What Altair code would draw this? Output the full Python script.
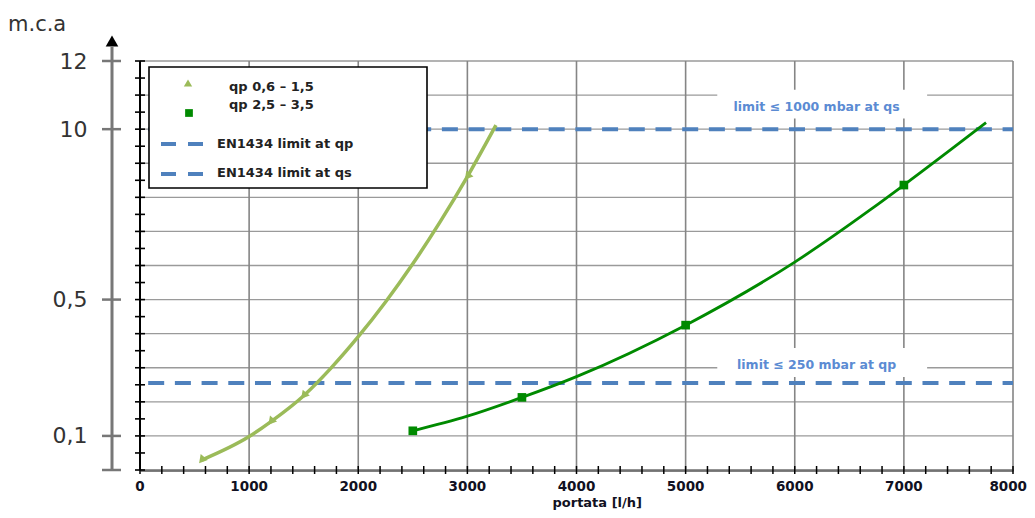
import altair as alt
import pandas as pd

# ---- data (x in l/h, y in axis grid units: 0..12) ----
lg_x = [565, 1000, 1200, 1500, 1750, 2000, 2250, 2500, 2750, 3000, 3262]
lg_y = [0.29, 0.98, 1.42, 2.18, 2.99, 3.91, 4.93, 6.05, 7.28, 8.61, 10.12]
lg_mark_x = [565, 1200, 1500, 3000]
lg_mark_y = [0.29, 1.42, 2.18, 8.61]

dg_x = [2500, 3000, 3500, 4000, 5000, 6000, 6690, 7000, 7753]
dg_y = [1.15, 1.58, 2.13, 2.74, 4.25, 6.10, 7.63, 8.36, 10.19]
dg_mark_x = [2500, 3500, 5000, 7000]
dg_mark_y = [1.15, 2.13, 4.25, 8.36]

limit_names = ["EN1434 limit at qp", "EN1434 limit at qs"]
limit_y = [2.55, 10.0]
limit_text = ["limit ≤ 250 mbar at qp", "limit ≤ 1000 mbar at qs"]
limit_text_y = [3.08, 10.66]

y_label_units = [1, 5, 10, 12]
y_label_text = ["0,1", "0,5", "10", "12"]
x_label_values = [0, 1000, 2000, 3000, 4000, 5000, 6000, 7000, 8000]
x_label_text = ["0", "1000", "2000", "3000", "4000", "5000", "6000", "7000", "8000"]
x_title = "portata [l/h]"

series_names = ["qp 0,6 – 1,5", "qp 2,5 – 3,5"]

W, H = 873, 409
LIGHT = "#9bbb59"
DARK = "#008a00"
BLUE = "#4f81bd"
FONT = "DejaVu Sans"

grid_y = list(range(0, 13))
tick_y = [i * 0.5 for i in range(25)]
tick_x = list(range(0, 8001, 200))
outer_ticks = [0] + y_label_units

xscale = alt.Scale(domain=[0, 8000], nice=False, zero=False)
yscale = alt.Scale(domain=[0, 12], nice=False, zero=False)

label_expr = " : ".join(
    [f"datum.value == {u} ? '{t}'" for u, t in zip(y_label_units, y_label_text)]
) + " : ''"

xaxis = alt.Axis(values=x_label_values, grid=False, ticks=False, domain=True,
                 domainColor="#000", domainWidth=2, labels=False, title=None)
yaxis = alt.Axis(values=y_label_units, labelExpr=label_expr, grid=False, ticks=False,
                 domain=False, offset=28, labelPadding=25, labelFont=FONT,
                 labelFontSize=22, labelColor="#333", labelOverlap=False, title=None)

def X(f):
    return alt.X(f, type="quantitative", scale=xscale, axis=xaxis)

def Y(f):
    return alt.Y(f, type="quantitative", scale=yscale, axis=yaxis)

one = alt.Data(values=[{}])

hgrid = alt.Chart(pd.DataFrame({"y": grid_y})).mark_rule(color="#9a9a9a", strokeWidth=1.4).encode(
    x=alt.XDatum(0, scale=xscale, axis=xaxis), x2=alt.X2Datum(8000), y=Y("y"))
vgrid = alt.Chart(pd.DataFrame({"x": x_label_values})).mark_rule(color="#858585", strokeWidth=1.6).encode(
    x=X("x"), y=alt.YDatum(0, scale=yscale, axis=yaxis), y2=alt.Y2Datum(12))

lim_df = pd.DataFrame({"name": limit_names, "y": limit_y})
limits = alt.Chart(lim_df).mark_rule(color=BLUE, strokeWidth=4, strokeDash=[16, 10.7]).encode(
    x=alt.XDatum(75), x2=alt.X2Datum(8000), y=Y("y"))

lt_df = pd.DataFrame({"t": limit_text, "y": limit_text_y})
boxes = alt.Chart(lt_df).transform_calculate(y0="datum.y - 0.35", y1="datum.y + 0.5").mark_rect(
    color="white").encode(x=alt.XDatum(5290), x2=alt.X2Datum(7213), y=Y("y0"), y2="y1:Q")
ltext = alt.Chart(lt_df).mark_text(font=FONT, fontWeight="bold", fontSize=12.5, color="#5b8bd3",
                                   baseline="middle", align="center").encode(
    x=alt.XDatum(6200), y=Y("y"), text="t:N")

lg_df = pd.DataFrame({"x": lg_x, "y": lg_y})
dg_df = pd.DataFrame({"x": dg_x, "y": dg_y})
lg_line = alt.Chart(lg_df).mark_line(color=LIGHT, strokeWidth=3.5, interpolate="monotone").encode(
    x=X("x"), y=Y("y"))
dg_line = alt.Chart(dg_df).mark_line(color=DARK, strokeWidth=2.8, interpolate="monotone").encode(
    x=X("x"), y=Y("y"))
lg_marks = alt.Chart(pd.DataFrame({"x": lg_mark_x, "y": lg_mark_y})).mark_point(
    shape="triangle-up", filled=True, color=LIGHT, size=85, opacity=1, angle=220).encode(
    x=X("x"), y=Y("y"))
dg_marks = alt.Chart(pd.DataFrame({"x": dg_mark_x, "y": dg_mark_y})).mark_square(
    filled=True, color=DARK, size=75, opacity=1).encode(x=X("x"), y=Y("y"))

# legend box
leg_box = alt.Chart(one).mark_rect(fill="white", stroke="#000", strokeWidth=1.6).encode(
    x=alt.value(9), x2=alt.value(287), y=alt.value(6), y2=alt.value(127))
leg_tri = alt.Chart(one).mark_point(shape="triangle-up", filled=True, color=LIGHT, size=70, opacity=1).encode(
    x=alt.value(48), y=alt.value(22))
leg_sq = alt.Chart(one).mark_square(filled=True, color=DARK, size=60, opacity=1).encode(
    x=alt.value(49), y=alt.value(52))
leg_d1 = alt.Chart(one).mark_rule(color=BLUE, strokeWidth=4, strokeDash=[15, 12]).encode(
    x=alt.value(21), x2=alt.value(63), y=alt.value(83))
leg_d2 = alt.Chart(one).mark_rule(color=BLUE, strokeWidth=4, strokeDash=[15, 12]).encode(
    x=alt.value(21), x2=alt.value(63), y=alt.value(113))
leg_text_style = dict(font=FONT, fontWeight="bold", fontSize=13, color="#222", align="left", baseline="middle")
leg_t1 = alt.Chart(one).mark_text(text=series_names[0], **leg_text_style).encode(x=alt.value(89), y=alt.value(26))
leg_t2 = alt.Chart(one).mark_text(text=series_names[1], **leg_text_style).encode(x=alt.value(89), y=alt.value(44))
leg_t3 = alt.Chart(one).mark_text(text=limit_names[0], **leg_text_style).encode(x=alt.value(77), y=alt.value(83))
leg_t4 = alt.Chart(one).mark_text(text=limit_names[1], **leg_text_style).encode(x=alt.value(77), y=alt.value(112))

# axis decorations
inner_dom = alt.Chart(one).mark_rule(color="#000", strokeWidth=2).encode(
    x=alt.value(0), y=alt.value(0), y2=alt.value(H))
inner_ticks = alt.Chart(pd.DataFrame({"y": tick_y})).mark_rule(color="#000", strokeWidth=1.6).encode(
    x=alt.value(-5), x2=alt.value(5), y=Y("y"))
x_ticks = alt.Chart(pd.DataFrame({"x": tick_x})).mark_rule(color="#000", strokeWidth=1.5).encode(
    x=X("x"), y=alt.value(H - 4), y2=alt.value(H + 4))
outer_line = alt.Chart(one).mark_rule(color="#777", strokeWidth=3).encode(
    x=alt.value(-28), y=alt.value(-14), y2=alt.value(H))
outer_ticks_l = alt.Chart(pd.DataFrame({"y": outer_ticks})).mark_rule(color="#777", strokeWidth=2.5).encode(
    x=alt.value(-38), x2=alt.value(-19), y=Y("y"))
arrow = alt.Chart(one).mark_point(shape="triangle-up", filled=True, color="#000", size=160, opacity=1).encode(
    x=alt.value(-28), y=alt.value(-20))
unit = alt.Chart(one).mark_text(text="m.c.a", font=FONT, fontSize=21, color="#333",
                                align="left", baseline="middle").encode(x=alt.value(-132), y=alt.value(-36))

# x tick labels and title, drawn last so nothing can cover them
xl_df = pd.DataFrame({"x": x_label_values, "t": x_label_text})
xlab_style = dict(font=FONT, fontWeight="bold", fontSize=13.5, color="#111122", baseline="middle")
xlabels = alt.Chart(xl_df.iloc[:-1]).mark_text(align="center", **xlab_style).encode(
    x=X("x"), y=alt.value(H + 17), text="t:N")
xlabel_last = alt.Chart(xl_df.iloc[-1:]).mark_text(align="right", dx=14, **xlab_style).encode(
    x=X("x"), y=alt.value(H + 17), text="t:N")
xtitle = alt.Chart(one).mark_text(text=x_title, font=FONT, fontWeight="bold", fontSize=13,
                                  color="#111122", align="center", baseline="alphabetic").encode(
    x=alt.XDatum(4190), y=alt.value(H + 37))

chart = alt.layer(
    hgrid, vgrid, limits, boxes, ltext, lg_line, dg_line, lg_marks, dg_marks,
    leg_box, leg_d1, leg_d2, leg_tri, leg_sq, leg_t1, leg_t2, leg_t3, leg_t4,
    inner_dom, inner_ticks, x_ticks, outer_line, outer_ticks_l, arrow, unit,
    xtitle, xlabels, xlabel_last
).properties(
    width=W, height=H,
    padding={"left": 132, "top": 53, "right": 14, "bottom": 40},
    autosize=alt.AutoSizeParams(type="none"),
    background="white",
).configure_view(stroke=None)

chart.save("out.html", embed_options={"renderer": "svg", "actions": False})
